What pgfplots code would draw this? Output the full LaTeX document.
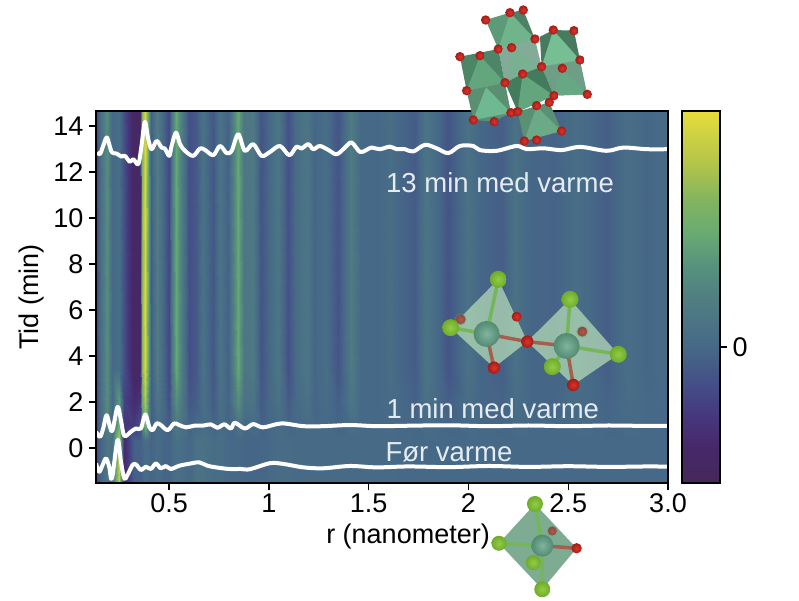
\documentclass[border=0pt]{standalone}
\usepackage{fontspec}
\setmainfont{Liberation Sans}
\usepackage{pgfplots}
\pgfplotsset{compat=1.18}

\definecolor{annot}{RGB}{228,236,242}
\definecolor{ored}{RGB}{222,40,32}
\definecolor{lgreen}{RGB}{132,200,50}
\definecolor{metal}{RGB}{96,162,134}

% ball helpers for the crystal structure sketches
\newcommand{\oball}[2]{\shade[inner color=ored!95!white, outer color=ored!72!black] (#1) circle (#2);}
\newcommand{\gball}[2]{\shade[inner color=lgreen!90!white, outer color=lgreen!85!black] (#1) circle (#2);}
\newcommand{\mball}[2]{\shade[inner color=metal!80!white, outer color=metal!85!black] (#1) circle (#2);}

\tikzset{bigfont/.style={font=\fontsize{27}{31}\selectfont}}

\pgfplotsset{
	heatmap/.style={
		colormap={muted}{
			rgb255(0pt)=(70,40,90);
			rgb255(9pt)=(70,40,105);
			rgb255(18pt)=(70,55,125);
			rgb255(27pt)=(68,80,135);
			rgb255(36.6pt)=(70,105,135);
			rgb255(49pt)=(80,125,130);
			rgb255(58pt)=(85,145,125);
			rgb255(67pt)=(105,170,115);
			rgb255(76pt)=(130,180,95);
			rgb255(85pt)=(175,195,75);
			rgb255(100pt)=(230,220,60)},
		point meta min=-0.366, point meta max=0.634,
	},
	boxed/.style={
		scale only axis, height=372pt,
		axis on top,
		axis line style={line width=2pt,black},
		tick align=outside,
		major tick length=7pt,
		tick style={line width=1.5pt,black},
		tick label style={bigfont},
		/pgf/number format/assume math mode=true,
	},
}

\begin{document}
\begin{tikzpicture}
\path[use as bounding box] (0pt,0pt) rectangle (799pt,-600pt);

\begin{axis}[
	boxed, heatmap,
	at={(96pt,-483pt)}, anchor=south west,
	width=572pt,
	xmin=0.133, xmax=3.0,
	ymin=-1.52, ymax=14.65,
	xtick pos=bottom, ytick pos=left,
	xtick={0.5,1,1.5,2,2.5,3},
	xticklabels={0.5,1,1.5,2,2.5,3.0},
	ytick={0,2,...,14},
	yticklabel style={xshift=-2pt},
	xlabel={r (nanometer)},
	ylabel={Tid (min)},
	x label style={at={(axis description cs:0.5455,-0.145)},anchor=center,bigfont},
	y label style={at={(axis description cs:-0.112,0.5)},anchor=center,bigfont},
]

% heat map: one row of values per time, knots at the stripe peaks and troughs
\addplot[surf, shader=interp, mesh/ordering=x varies, mesh/cols=56, point meta=explicit, forget plot]
	table[row sep=\\, x=r, y=t, meta=v] {
r t v\\
0.133 -1.52 -0.12\\ 0.153 -1.52 -0.03\\ 0.186 -1.52 0.08\\ 0.213 -1.52 0.05\\ 0.249 -1.52 0.55\\ 0.274 -1.52 -0.27\\ 0.325 -1.52 -0.03\\ 0.353 -1.52 -0.03\\ 0.363 -1.52 -0.02\\ 0.380 -1.52 0.03\\
0.397 -1.52 0\\ 0.408 -1.52 -0.02\\ 0.438 -1.52 0.02\\ 0.467 -1.52 -0.01\\ 0.497 -1.52 -0.02\\ 0.514 -1.52 0.01\\ 0.535 -1.52 0.04\\ 0.559 -1.52 0.03\\ 0.600 -1.52 0\\ 0.634 -1.52 0.05\\
0.667 -1.52 0.05\\ 0.718 -1.52 0.02\\ 0.754 -1.52 0.03\\ 0.793 -1.52 0\\ 0.843 -1.52 0\\ 0.876 -1.52 -0.01\\ 0.918 -1.52 -0.01\\ 0.960 -1.52 -0.01\\ 1.001 -1.52 0\\ 1.043 -1.52 0.02\\
1.094 -1.52 0.02\\ 1.135 -1.52 0.01\\ 1.189 -1.52 0.01\\ 1.227 -1.52 0.01\\ 1.285 -1.52 0.01\\ 1.344 -1.52 0.01\\ 1.411 -1.52 0.01\\ 1.461 -1.52 0.01\\
1.556 -1.52 0.01\\ 1.606 -1.52 0.01\\ 1.656 -1.52 0\\ 1.732 -1.52 0\\ 1.787 -1.52 0\\ 1.848 -1.52 0\\ 1.898 -1.52 0\\ 1.997 -1.52 0\\ 2.057 -1.52 0\\ 2.166 -1.52 0\\ 2.233 -1.52 0\\ 2.308 -1.52 0\\ 2.438 -1.52 0\\ 2.542 -1.52 0\\ 2.693 -1.52 0\\ 2.793 -1.52 0\\ 2.893 -1.52 0\\ 3.0 -1.52 0\\
0.133 0.3 -0.12\\ 0.153 0.3 -0.03\\ 0.186 0.3 0.08\\ 0.213 0.3 0.05\\ 0.249 0.3 0.55\\ 0.274 0.3 -0.27\\ 0.325 0.3 -0.03\\ 0.353 0.3 -0.03\\ 0.363 0.3 -0.02\\ 0.380 0.3 0.03\\
0.397 0.3 0\\ 0.408 0.3 -0.02\\ 0.438 0.3 0.02\\ 0.467 0.3 -0.01\\ 0.497 0.3 -0.02\\ 0.514 0.3 0.01\\ 0.535 0.3 0.04\\ 0.559 0.3 0.03\\ 0.600 0.3 0\\ 0.634 0.3 0.05\\
0.667 0.3 0.05\\ 0.718 0.3 0.02\\ 0.754 0.3 0.03\\ 0.793 0.3 0\\ 0.843 0.3 0\\ 0.876 0.3 -0.01\\ 0.918 0.3 -0.01\\ 0.960 0.3 -0.01\\ 1.001 0.3 0\\ 1.043 0.3 0.02\\
1.094 0.3 0.02\\ 1.135 0.3 0.01\\ 1.189 0.3 0.01\\ 1.227 0.3 0.01\\ 1.285 0.3 0.01\\ 1.344 0.3 0.01\\ 1.411 0.3 0.01\\ 1.461 0.3 0.01\\
1.556 0.3 0.01\\ 1.606 0.3 0.01\\ 1.656 0.3 0\\ 1.732 0.3 0\\ 1.787 0.3 0\\ 1.848 0.3 0\\ 1.898 0.3 0\\ 1.997 0.3 0\\ 2.057 0.3 0\\ 2.166 0.3 0\\ 2.233 0.3 0\\ 2.308 0.3 0\\ 2.438 0.3 0\\ 2.542 0.3 0\\ 2.693 0.3 0\\ 2.793 0.3 0\\ 2.893 0.3 0\\ 3.0 0.3 0\\
0.133 1.0 -0.12\\ 0.153 1.0 0\\ 0.186 1.0 0.17\\ 0.213 1.0 -0.02\\ 0.249 1.0 0.33\\ 0.274 1.0 -0.2\\ 0.325 1.0 -0.18\\ 0.353 1.0 -0.1\\ 0.363 1.0 0.2\\ 0.380 1.0 0.35\\
0.397 1.0 0.1\\ 0.408 1.0 -0.03\\ 0.438 1.0 0.03\\ 0.467 1.0 0\\ 0.497 1.0 -0.05\\ 0.514 1.0 0.03\\ 0.535 1.0 0.1\\ 0.559 1.0 0.05\\ 0.600 1.0 -0.03\\ 0.634 1.0 0\\
0.667 1.0 0.02\\ 0.718 1.0 -0.02\\ 0.754 1.0 0.02\\ 0.793 1.0 -0.02\\ 0.843 1.0 0.08\\ 0.876 1.0 0\\ 0.918 1.0 0.02\\ 0.960 1.0 -0.03\\ 1.001 1.0 0\\ 1.043 1.0 0.02\\
1.094 1.0 -0.02\\ 1.135 1.0 0.01\\ 1.189 1.0 0.02\\ 1.227 1.0 0\\ 1.285 1.0 0.01\\ 1.344 1.0 -0.02\\ 1.411 1.0 0.03\\ 1.461 1.0 0\\
1.556 1.0 0\\ 1.606 1.0 0.01\\ 1.656 1.0 0\\ 1.732 1.0 -0.01\\ 1.787 1.0 0.02\\ 1.848 1.0 0\\ 1.898 1.0 -0.01\\ 1.997 1.0 0.01\\ 2.057 1.0 0\\ 2.166 1.0 -0.01\\ 2.233 1.0 0.01\\ 2.308 1.0 0\\ 2.438 1.0 0\\ 2.542 1.0 0.01\\ 2.693 1.0 -0.01\\ 2.793 1.0 0.01\\ 2.893 1.0 0\\ 3.0 1.0 0\\
0.133 2.0 -0.15\\ 0.153 2.0 0.02\\ 0.186 2.0 0.2\\ 0.213 2.0 0\\ 0.249 2.0 0.25\\ 0.274 2.0 -0.15\\ 0.325 2.0 -0.25\\ 0.353 2.0 -0.2\\ 0.363 2.0 0.3\\ 0.380 2.0 0.5\\
0.397 2.0 0.12\\ 0.408 2.0 -0.05\\ 0.438 2.0 0.08\\ 0.467 2.0 0\\ 0.497 2.0 -0.1\\ 0.514 2.0 0.07\\ 0.535 2.0 0.2\\ 0.559 2.0 0.1\\ 0.600 2.0 -0.07\\ 0.634 2.0 -0.04\\
0.667 2.0 0.04\\ 0.718 2.0 -0.05\\ 0.754 2.0 0.04\\ 0.793 2.0 -0.02\\ 0.843 2.0 0.2\\ 0.876 2.0 0.05\\ 0.918 2.0 0.06\\ 0.960 2.0 -0.06\\ 1.001 2.0 0\\ 1.043 2.0 0.05\\
1.094 2.0 -0.05\\ 1.135 2.0 0.01\\ 1.189 2.0 0.05\\ 1.227 2.0 -0.01\\ 1.285 2.0 0.02\\ 1.344 2.0 -0.04\\ 1.411 2.0 0.08\\ 1.461 2.0 0\\
1.556 2.0 0\\ 1.606 2.0 0.02\\ 1.656 2.0 0\\ 1.732 2.0 -0.03\\ 1.787 2.0 0.05\\ 1.848 2.0 0\\ 1.898 2.0 -0.04\\ 1.997 2.0 0.03\\ 2.057 2.0 -0.01\\ 2.166 2.0 -0.02\\ 2.233 2.0 0.03\\ 2.308 2.0 -0.01\\ 2.438 2.0 -0.01\\ 2.542 2.0 0.02\\ 2.693 2.0 -0.02\\ 2.793 2.0 0.02\\ 2.893 2.0 0\\ 3.0 2.0 0.01\\
0.133 3.5 -0.15\\ 0.153 3.5 0.02\\ 0.186 3.5 0.2\\ 0.213 3.5 0\\ 0.249 3.5 0.03\\ 0.274 3.5 -0.1\\ 0.325 3.5 -0.32\\ 0.353 3.5 -0.3\\ 0.363 3.5 0.4\\ 0.380 3.5 0.6\\
0.397 3.5 0.2\\ 0.408 3.5 -0.05\\ 0.438 3.5 0.12\\ 0.467 3.5 0\\ 0.497 3.5 -0.13\\ 0.514 3.5 0.1\\ 0.535 3.5 0.3\\ 0.559 3.5 0.13\\ 0.600 3.5 -0.1\\ 0.634 3.5 -0.06\\
0.667 3.5 0.05\\ 0.718 3.5 -0.07\\ 0.754 3.5 0.06\\ 0.793 3.5 -0.03\\ 0.843 3.5 0.3\\ 0.876 3.5 0.08\\ 0.918 3.5 0.1\\ 0.960 3.5 -0.08\\ 1.001 3.5 0\\ 1.043 3.5 0.08\\
1.094 3.5 -0.09\\ 1.135 3.5 0.02\\ 1.189 3.5 0.08\\ 1.227 3.5 -0.01\\ 1.285 3.5 0.03\\ 1.344 3.5 -0.08\\ 1.411 3.5 0.11\\ 1.461 3.5 0\\
1.556 3.5 0\\ 1.606 3.5 0.03\\ 1.656 3.5 -0.01\\ 1.732 3.5 -0.05\\ 1.787 3.5 0.07\\ 1.848 3.5 0\\ 1.898 3.5 -0.08\\ 1.997 3.5 0.05\\ 2.057 3.5 -0.01\\ 2.166 3.5 -0.04\\ 2.233 3.5 0.05\\ 2.308 3.5 -0.01\\ 2.438 3.5 -0.02\\ 2.542 3.5 0.03\\ 2.693 3.5 -0.04\\ 2.793 3.5 0.03\\ 2.893 3.5 -0.01\\ 3.0 3.5 0.02\\
0.133 14.65 -0.15\\ 0.153 14.65 0.02\\ 0.186 14.65 0.2\\ 0.213 14.65 0\\ 0.249 14.65 0.03\\ 0.274 14.65 -0.1\\ 0.325 14.65 -0.32\\ 0.353 14.65 -0.3\\ 0.363 14.65 0.4\\ 0.380 14.65 0.6\\
0.397 14.65 0.2\\ 0.408 14.65 -0.05\\ 0.438 14.65 0.12\\ 0.467 14.65 0\\ 0.497 14.65 -0.13\\ 0.514 14.65 0.1\\ 0.535 14.65 0.3\\ 0.559 14.65 0.13\\ 0.600 14.65 -0.1\\ 0.634 14.65 -0.06\\
0.667 14.65 0.05\\ 0.718 14.65 -0.07\\ 0.754 14.65 0.06\\ 0.793 14.65 -0.03\\ 0.843 14.65 0.3\\ 0.876 14.65 0.08\\ 0.918 14.65 0.1\\ 0.960 14.65 -0.08\\ 1.001 14.65 0\\ 1.043 14.65 0.08\\
1.094 14.65 -0.09\\ 1.135 14.65 0.02\\ 1.189 14.65 0.08\\ 1.227 14.65 -0.01\\ 1.285 14.65 0.03\\ 1.344 14.65 -0.08\\ 1.411 14.65 0.11\\ 1.461 14.65 0\\
1.556 14.65 0\\ 1.606 14.65 0.03\\ 1.656 14.65 -0.01\\ 1.732 14.65 -0.05\\ 1.787 14.65 0.07\\ 1.848 14.65 0\\ 1.898 14.65 -0.08\\ 1.997 14.65 0.05\\ 2.057 14.65 -0.01\\ 2.166 14.65 -0.04\\ 2.233 14.65 0.05\\ 2.308 14.65 -0.01\\ 2.438 14.65 -0.02\\ 2.542 14.65 0.03\\ 2.693 14.65 -0.04\\ 2.793 14.65 0.03\\ 2.893 14.65 -0.01\\ 3.0 14.65 0.02\\
};

% white curves
\addplot[white, line width=4pt, line join=round, smooth, tension=0.55, forget plot] coordinates {
(.139,12.85)(.153,12.77)(.166,13.06)(.186,13.50)(.199,13.21)(.213,12.85)(.236,12.80)(.261,12.67)(.278,12.70)(.303,12.44)
(.320,12.56)(.345,12.34)(.361,13.13)(.378,14.17)(.395,13.42)(.412,12.99)(.437,13.35)(.462,13.06)(.478,13.02)(.500,12.70)
(.512,13.13)(.534,13.71)(.554,13.21)(.579,12.92)(.620,12.70)(.654,13.02)(.679,12.96)(.721,12.73)(.754,13.13)(.788,12.82)
(.813,12.92)(.846,13.64)(.879,12.92)(.921,13.21)(.963,12.70)(1.005,12.87)(1.055,13.13)(1.102,12.73)(1.138,13.10)(1.163,13.02)
(1.197,13.21)(1.222,12.99)(1.255,13.13)(1.297,12.96)(1.339,12.77)(1.381,13.06)(1.414,13.28)(1.456,12.87)(1.489,12.96)(1.514,13.06)
(1.556,12.99)(1.606,13.10)(1.640,12.99)(1.681,12.99)(1.723,12.89)(1.782,13.18)(1.840,13.03)(1.899,12.82)(1.957,13.13)(2.024,13.13)
(2.057,12.95)(2.141,12.92)(2.241,13.13)(2.291,12.99)(2.375,13.03)(2.467,12.95)(2.559,13.09)(2.692,12.92)(2.776,13.06)(2.893,12.99)(3.0,12.99)
};
\addplot[white, line width=4pt, line join=round, smooth, tension=0.55, forget plot] coordinates {
(.133,.71)(.153,.49)(.169,.85)(.186,1.43)(.203,.92)(.216,.78)(.241,1.79)(.258,1.21)(.275,.53)(.308,.71)(.333,.85)(.358,.85)
(.380,1.46)(.400,.92)(.417,.78)(.437,1.07)(.458,1.0)(.492,.78)(.525,1.07)(.550,1.0)(.584,.90)(.625,.97)(.667,.97)(.709,1.03)
(.742,.88)(.776,1.03)(.809,.85)(.829,1.10)(.879,.85)(.921,1.04)(.971,.90)(1.063,1.07)(1.172,.95)(1.272,.95)(1.406,1.0)(1.539,.95)
(1.7,.97)(1.9,.99)(2.1,.95)(2.3,.98)(2.5,.95)(2.7,.98)(2.9,.96)(3,.97)
};
\addplot[white, line width=4pt, line join=round, smooth, tension=0.55, forget plot] coordinates {
(.133,-.67)(.149,-1.03)(.166,-.74)(.183,-.45)(.199,-.81)(.213,-1.32)(.241,.35)(.258,-.59)(.275,-1.32)(.291,-1.17)(.316,-.74)(.333,-.71)
(.358,-.95)(.383,-.81)(.408,-.91)(.433,-.67)(.458,-.88)(.483,-.78)(.508,-.91)(.550,-.77)(.609,-.67)(.650,-.62)(.692,-.77)(.742,-.85)
(.801,-.91)(.859,-.91)(.904,-.92)(1.005,-.66)(1.072,-.69)(1.172,-.84)(1.272,-.88)(1.406,-.78)(1.539,-.84)
(1.7,-.80)(1.9,-.83)(2.1,-.78)(2.3,-.82)(2.5,-.79)(2.7,-.82)(2.9,-.80)(3,-.81)
};

\node[text=annot, font=\fontsize{27.5}{31}\selectfont] at (axis cs:2.158,11.53) {13 min med varme};
\node[text=annot, font=\fontsize{27.5}{31}\selectfont] at (axis cs:2.122,1.73) {1 min med varme};
\node[text=annot, font=\fontsize{27.5}{31}\selectfont] at (axis cs:1.902,-0.17) {Før varme};
\end{axis}

% colour bar as its own axis
\begin{axis}[
	boxed, heatmap,
	at={(682pt,-483pt)}, anchor=south west,
	width=38pt,
	xmin=0, xmax=1, ymin=-0.366, ymax=0.634,
	xtick=\empty,
	ytick={0}, ytick pos=right,
	yticklabel pos=right,
	yticklabel style={xshift=2pt},
]
\addplot[surf, shader=interp, mesh/ordering=x varies, mesh/cols=2, point meta=y, forget plot]
	table[row sep=\\, x=a, y=b] {
a b\\
0 -0.366\\ 1 -0.366\\
0 0.634\\ 1 0.634\\
};
\end{axis}

% top cluster, in zoomed pixels of its region
\begin{scope}[x=0.3333pt,y=-0.3333pt,shift={(1290,0)}]
\fill[color={rgb,255:red,78;green,128;blue,101}] (240,38)--(280,30)--(315,117)--cycle;
\fill[color={rgb,255:red,92;green,154;blue,120}] (167,60)--(240,38)--(315,117)--(205,147)--cycle;
\fill[color={rgb,255:red,112;green,180;blue,140}] (240,40)--(315,118)--(205,147)--cycle;
\fill[color={rgb,255:red,71;green,122;blue,94}] (330,110)--(370,90)--(432,92)--(450,180)--(335,200)--cycle;
\fill[color={rgb,255:red,118;green,190;blue,148}] (370,90)--(450,180)--(335,200)--cycle;
\fill[color={rgb,255:red,131;green,171;blue,151}] (205,147)--(315,117)--(335,200)--(278,222)--(225,248)--cycle;
\fill[color={rgb,255:red,120;green,176;blue,145}] (245,143)--(335,200)--(235,240)--cycle;
\fill[color={rgb,255:red,111;green,158;blue,134}] (335,200)--(450,180)--(472,283)--(372,287)--cycle;
\fill[color={rgb,255:red,102;green,168;blue,132}] (395,205)--(472,283)--(372,287)--cycle;
\fill[color={rgb,255:red,77;green,133;blue,103}] (90,170)--(205,147)--(225,248)--(110,272)--cycle;
\fill[color={rgb,255:red,99;green,165;blue,125}] (150,167)--(225,248)--(110,272)--cycle;
\fill[color={rgb,255:red,90;green,143;blue,114}] (110,272)--(225,248)--(243,338)--(193,365)--(130,360)--cycle;
\fill[color={rgb,255:red,110;green,185;blue,145}] (168,262)--(243,338)--(130,360)--cycle;
\fill[color={rgb,255:red,69;green,123;blue,93}] (278,222)--(335,200)--(372,287)--(263,335)--(225,248)--cycle;
\fill[color={rgb,255:red,99;green,165;blue,125}] (278,222)--(372,287)--(263,335)--cycle;
\fill[color={rgb,255:red,90;green,144;blue,116}] (263,335)--(358,307)--(395,393)--(283,423)--cycle;
\fill[color={rgb,255:red,108;green,170;blue,135}] (320,320)--(395,393)--(283,423)--cycle;
\foreach \px/\py in {167/60,240/38,280/30,315/117,205/147,245/143,370/90,432/92,450/180,335/200,397/205,278/222,225/248,90/170,150/167,110/272,243/338,263/335,193/365,130/360,372/287,358/307,472/283,320/317,395/393,283/423,320/420}{
	\oball{\px,\py}{4.7pt}
}
\end{scope}

% middle dimer
\begin{scope}[x=0.3333pt,y=-0.3333pt,shift={(1290,780)}]
\fill[color={rgb,255:red,195;green,235;blue,190},fill opacity=0.65] (205,58)--(62,203)--(192,323)--(292,245)--cycle;
\fill[color={rgb,255:red,195;green,235;blue,190},fill opacity=0.65] (420,118)--(292,245)--(430,375)--(565,283)--cycle;
\oball{92,178}{5pt}
\oball{260,170}{5pt}
\oball{457,215}{5pt}
\fill[metal,opacity=0.35] (92,178) circle (6pt) (457,215) circle (6pt);
\draw[line width=3.5pt,lgreen!55!metal] (170,222)--(205,58) (170,222)--(62,203);
\draw[line width=3.5pt,ored!55!metal] (170,222)--(192,323) (170,222)--(292,245);
\draw[line width=3.5pt,lgreen!55!metal] (410,258)--(420,118) (410,258)--(565,283) (410,258)--(367,320);
\draw[line width=3.5pt,ored!55!metal] (410,258)--(430,375) (410,258)--(292,245);
\mball{170,222}{13pt}
\mball{410,258}{13pt}
\gball{205,58}{8.5pt}
\gball{62,203}{8.5pt}
\gball{420,118}{8.5pt}
\gball{565,283}{8.5pt}
\gball{367,320}{8.5pt}
\oball{192,323}{6.2pt}
\oball{292,245}{6.2pt}
\oball{430,375}{6.2pt}
\end{scope}

% bottom octahedron
\begin{scope}[x=0.3333pt,y=-0.3333pt,shift={(1440,1440)}]
\fill[color={rgb,255:red,126;green,172;blue,146}] (165,72)--(57,190)--(187,328)--(290,205)--cycle;
\oball{217,153}{4.5pt}
\fill[metal,opacity=0.35] (217,153) circle (5.5pt);
\draw[line width=3.5pt,lgreen!55!metal] (187,197)--(165,72) (187,197)--(57,190) (187,197)--(187,328);
\draw[line width=3.5pt,ored!55!metal] (187,197)--(290,205);
\mball{187,197}{11pt}
\gball{165,72}{8pt}
\gball{57,190}{7.5pt}
\gball{160,248}{7.5pt}
\gball{187,328}{8pt}
\oball{290,205}{5.2pt}
\end{scope}
\end{tikzpicture}
\end{document}
